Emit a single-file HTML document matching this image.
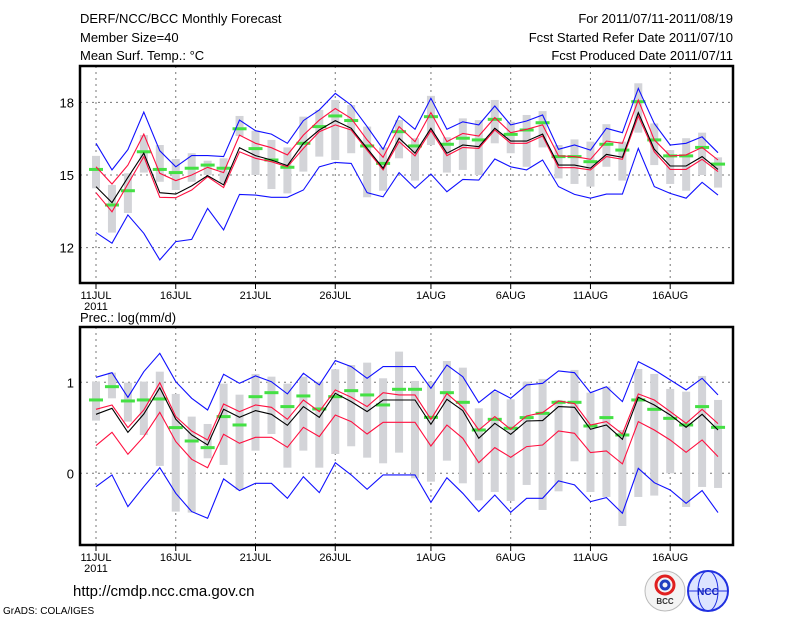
<!DOCTYPE html>
<html><head><meta charset="utf-8"><style>
body{margin:0;background:#fff;}
svg{display:block;font-family:"Liberation Sans",sans-serif;}
</style></head><body>
<svg id="c" width="800" height="618" viewBox="0 0 800 618">
<g font-size="13" fill="#000">
<text x="80" y="23">DERF/NCC/BCC Monthly Forecast</text>
<text x="80" y="42">Member Size=40</text>
<text x="80" y="60">Mean Surf. Temp.: °C</text>
<text x="733" y="23" text-anchor="end">For 2011/07/11-2011/08/19</text>
<text x="733" y="42" text-anchor="end">Fcst Started Refer Date 2011/07/10</text>
<text x="733" y="60" text-anchor="end">Fcst Produced Date 2011/07/11</text>
<text x="80" y="322">Prec.: log(mm/d)</text>
<text x="73" y="596" font-size="15">http://cmdp.ncc.cma.gov.cn</text>
<text x="3" y="614" font-size="10">GrADS: COLA/IGES</text>
</g>
<g>
<circle cx="665" cy="591" r="20" fill="#f4f4f4" stroke="#bbb"/>
<circle cx="665" cy="585" r="9" fill="none" stroke="#e02020" stroke-width="3"/>
<circle cx="665" cy="585" r="4" fill="none" stroke="#2040c0" stroke-width="3"/>
<text x="665" y="604" font-size="8" text-anchor="middle" font-weight="bold" fill="#333">BCC</text>
</g>
<g>
<circle cx="708" cy="591" r="20" fill="#dde4ff" stroke="#2030e0" stroke-width="2"/>
<ellipse cx="708" cy="591" rx="10" ry="20" fill="none" stroke="#2030e0"/>
<line x1="688" y1="591" x2="728" y2="591" stroke="#2030e0"/>
<text x="708" y="595" font-size="10" text-anchor="middle" font-weight="bold" fill="#1020c0">NCC</text>
</g>
<g id="plots"></g>
</svg>
<script>
// Temperature panel data (°C)
const days = ["11JUL","","","","","16JUL","","","","","21JUL","","","","","26JUL","","","","","","1AUG","","","","","6AUG","","","","","11AUG","","","","","16AUG","","",""];
const tBlueTop=[16.31,15.21,16.05,17.6,16.0,15.34,15.8,15.8,15.76,17.27,16.83,16.69,16.31,17.25,17.69,18.37,17.89,17.0,16.06,17.44,16.89,18.17,16.89,17.2,17.07,17.85,17.07,17.23,17.48,16.06,16.24,16.03,16.93,16.75,18.58,17.13,16.24,16.31,16.58,15.92];
const tBlueBot=[12.62,12.18,13.35,12.59,11.49,12.25,12.34,13.62,12.73,14.2,14.17,14.08,14.08,14.38,15.34,15.52,15.48,14.27,14.1,15.1,14.45,15.04,14.31,14.82,14.79,15.66,15.34,15.21,15.62,14.52,14.2,14.04,14.21,14.21,16.1,14.52,14.24,14.04,14.7,14.17];
const tRedTop=[15.34,14.63,15.41,16.69,15.07,14.77,15.0,15.32,15.1,16.65,16.31,16.13,15.83,16.65,17.27,17.75,17.34,16.45,15.73,17.0,16.38,17.58,16.38,16.72,16.61,17.37,16.75,16.89,17.07,15.79,15.76,15.65,16.4,16.31,18.1,16.45,15.79,15.83,16.14,15.62];
const tRedBot=[14.27,13.48,14.63,15.76,14.08,14.06,14.38,14.93,14.48,15.96,15.69,15.55,15.34,16.1,16.79,17.07,16.86,16.03,15.21,16.38,15.79,16.83,15.8,16.14,16.1,16.86,16.31,16.31,16.61,15.3,15.3,15.21,15.76,15.65,17.44,15.96,15.23,15.23,15.65,15.14];
const tMean=[14.52,13.86,14.9,15.9,14.27,14.21,14.55,14.97,14.59,16.13,15.8,15.62,15.39,16.31,16.86,17.25,16.93,16.1,15.28,16.52,15.9,16.93,15.9,16.24,16.17,16.93,16.4,16.4,16.69,15.41,15.41,15.28,15.85,15.73,17.58,16.06,15.37,15.37,15.76,15.23];
const tObs=[15.23,13.76,14.35,15.96,15.23,15.1,15.28,15.41,15.28,16.91,16.09,15.62,15.32,16.31,17.0,17.44,17.25,16.2,15.48,16.79,16.2,17.41,16.27,16.52,16.45,17.3,16.68,16.86,17.16,15.76,15.76,15.55,16.27,16.03,18.03,16.45,15.79,15.79,16.14,15.45];
const tBarTop=[15.79,14.59,15.07,16.65,16.24,15.66,15.9,15.59,15.69,17.44,16.83,16.45,16.14,17.41,17.69,18.1,17.89,17.0,16.14,17.27,16.52,18.27,16.56,17.34,17.27,18.1,17.2,17.48,17.64,16.24,16.47,16.38,17.1,16.38,18.79,17.13,16.03,16.52,16.75,15.73];
const tBarBot=[14.45,12.62,13.43,15.1,14.72,14.38,14.72,15.0,14.68,16.61,15.0,14.42,14.24,15.14,15.76,15.62,15.9,14.08,14.35,15.69,14.77,16.24,15.1,15.21,15.0,16.31,15.9,15.34,16.14,14.86,14.63,14.52,15.34,14.77,16.75,15.41,14.63,14.35,15.0,14.48];
const tTicks=[12,15,18];
// Precipitation panel data (log mm/d)
const pBlueTop=[1.055,1.106,0.835,1.117,1.319,1.007,0.824,0.696,1.088,0.989,1.07,1.007,0.872,1.099,0.971,1.238,1.172,1.044,1.172,1.172,1.172,0.934,1.19,1.062,0.777,0.916,0.824,0.971,0.989,1.125,1.106,0.886,0.952,0.788,1.227,1.136,1.026,0.916,1.044,0.861];
const pBlueBot=[-0.147,-0.018,-0.366,-0.147,0.062,-0.22,-0.421,-0.495,-0.062,-0.19,-0.11,-0.11,-0.275,-0.037,-0.212,0.117,-0.018,-0.176,-0.018,-0.018,-0.018,-0.319,-0.048,-0.22,-0.421,-0.238,-0.429,-0.275,-0.275,-0.084,-0.128,-0.311,-0.267,-0.44,0.055,-0.103,-0.183,-0.33,-0.19,-0.432];
const pRedTop=[0.703,0.751,0.502,0.696,0.996,0.623,0.465,0.366,0.762,0.678,0.751,0.725,0.593,0.806,0.678,0.916,0.835,0.733,0.886,0.861,0.861,0.593,0.876,0.725,0.476,0.623,0.484,0.63,0.667,0.795,0.766,0.531,0.568,0.432,0.872,0.806,0.678,0.549,0.703,0.546];
const pRedBot=[0.304,0.451,0.209,0.403,0.67,0.348,0.154,0.062,0.429,0.33,0.396,0.396,0.286,0.505,0.403,0.641,0.568,0.432,0.56,0.56,0.56,0.3,0.531,0.385,0.117,0.282,0.176,0.293,0.311,0.465,0.44,0.227,0.245,0.103,0.568,0.476,0.366,0.231,0.366,0.183];
const pMean=[0.648,0.714,0.451,0.652,0.941,0.593,0.421,0.311,0.703,0.615,0.689,0.648,0.527,0.733,0.615,0.879,0.788,0.678,0.806,0.806,0.806,0.538,0.813,0.689,0.385,0.549,0.429,0.575,0.579,0.733,0.725,0.484,0.531,0.374,0.835,0.751,0.641,0.505,0.648,0.476];
const pObs=[0.806,0.952,0.795,0.806,0.817,0.502,0.355,0.282,0.623,0.531,0.842,0.886,0.733,0.85,0.707,0.842,0.908,0.861,0.751,0.923,0.923,0.615,0.886,0.78,0.476,0.593,0.495,0.612,0.659,0.78,0.78,0.52,0.612,0.421,0.806,0.703,0.604,0.531,0.733,0.505];
const pBarTop=[1.007,1.106,0.996,1.007,1.117,0.872,0.623,0.542,0.985,0.864,1.092,1.062,0.985,1.062,1.007,1.143,1.19,1.216,1.044,1.337,1.015,1.0,1.234,1.161,0.714,0.897,0.813,1.007,1.037,0.806,1.136,0.886,0.952,0.476,1.146,1.092,0.927,0.897,1.07,0.806];
const pBarBot=[0.579,0.824,0.568,0.421,0.081,-0.421,-0.432,0.165,0.092,-0.183,0.249,0.432,0.062,0.249,0.062,0.212,0.297,0.172,0.11,0.227,-0.055,-0.092,0.139,-0.11,-0.297,-0.205,-0.304,-0.128,-0.403,-0.198,0.132,-0.205,-0.26,-0.579,-0.26,-0.245,0,-0.37,-0.15,-0.161];
const pTicks=[0,1];

const NS="http://www.w3.org/2000/svg";
const root=document.getElementById('plots');
const X0=80,X1=733;
function xs(i){return 96+i*15.95;}
function mk(tag,attrs,parent){const e=document.createElementNS(NS,tag);for(const k in attrs)e.setAttribute(k,attrs[k]);parent.appendChild(e);return e;}

function panel(name,top,bot,yf,ticks,bt,bb,obs,rt,rb,bl,bu,mean){
  const g=mk('g',{},root);
  
  
  days.forEach((d,i)=>{if(d){const l=mk('line',{x1:xs(i),x2:xs(i),y1:top,y2:bot,stroke:'#777','stroke-dasharray':'2,4'},g);
    
    }});
  ticks.forEach(t=>{const l=mk('line',{x1:X0,x2:X1,y1:yf(t),y2:yf(t),stroke:'#777','stroke-dasharray':'2,4'},g);
    
    
    const tx=mk('text',{x:X0-6,y:yf(t)+5,'text-anchor':'end','font-size':'13'},g);tx.textContent=t;
    
    });
  bt.forEach((v,i)=>{const y1=yf(v),y2=yf(bb[i]);const r=mk('rect',{x:xs(i)-4,y:y1,width:8,height:y2-y1,fill:'#d3d4d8'},g);
    
    });
  obs.forEach((v,i)=>{const r=mk('rect',{x:xs(i)-7,y:yf(v)-1.5,width:14,height:3,fill:'#44e044'},g);
    
    });
  const line=(arr,col,nm)=>{const p=mk('polyline',{points:arr.map((v,i)=>xs(i).toFixed(1)+','+yf(v).toFixed(1)).join(' '),fill:'none',stroke:col,'stroke-width':1.1},g);
    
    };
  line(bu,'#1010ff','max-line');line(bl,'#1010ff','min-line');
  line(rt,'#ff1040','upper-line');line(rb,'#ff1040','lower-line');
  line(mean,'#000','mean-line');
  const f=mk('rect',{x:X0,y:top,width:X1-X0,height:bot-top,fill:'none',stroke:'#000','stroke-width':2.5},g);
  
  
  days.forEach((d,i)=>{if(d){mk('line',{x1:xs(i),x2:xs(i),y1:bot,y2:bot+6,stroke:'#000'},g);
    const tx=mk('text',{x:xs(i),y:bot+16,'text-anchor':'middle','font-size':'11'},g);tx.textContent=d;
    
    }});
  const yr=mk('text',{x:xs(0),y:bot+27,'text-anchor':'middle','font-size':'11'},g);yr.textContent='2011';
  
  
}
panel('temperature-panel',66,283,v=>175-(v-15)*24.2,tTicks,tBarTop,tBarBot,tObs,tRedTop,tRedBot,tBlueBot,tBlueTop,tMean);
panel('precip-panel',327,545,v=>473.3-v*91,pTicks,pBarTop,pBarBot,pObs,pRedTop,pRedBot,pBlueBot,pBlueTop,pMean);
</script>
</body></html>
